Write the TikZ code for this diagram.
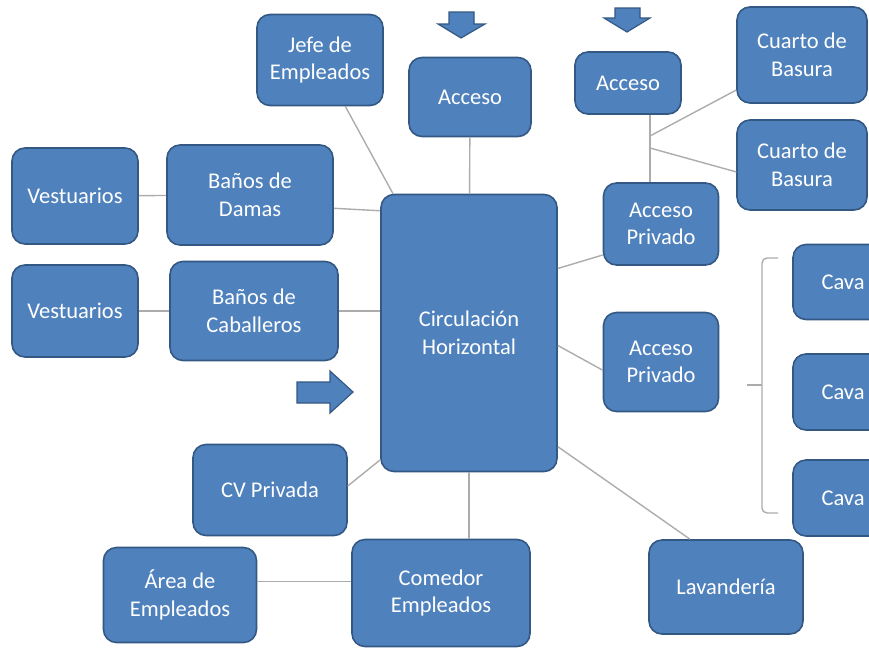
\documentclass[tikz,border=0pt]{standalone}
\usepackage{fontspec}
\setmainfont{Carlito}
\definecolor{boxfill}{RGB}{79,129,189}
\definecolor{boxedge}{RGB}{52,88,132}
\definecolor{linegray}{RGB}{172,172,172}
\begin{document}
\begin{tikzpicture}[x=1pt,y=-1pt,
  box/.style={draw=boxedge, fill=boxfill, line width=1.6pt, rounded corners=13pt,
    text=white, align=center, font=\fontsize{22.5}{27.5}\selectfont, inner sep=0pt},
  sz/.style 2 args={minimum width=#1pt, minimum height=#2pt},
  conn/.style={draw=linegray, line width=1.4pt},
  blockarrow/.style={fill=boxfill, draw=boxedge, line width=1.2pt, line join=miter}]

\useasboundingbox (0,0) rectangle (869,651);
\clip (0,0) rectangle (869,651);

% rooms
\node[box, sz={126}{91}]  (jefe)    at (320,60)  {Jefe de\\Empleados};
\node[box, sz={122}{79}]  (acc1)    at (470,97)  {Acceso};
\node[box, sz={106}{62}]  (acc2)    at (628,83)  {Acceso};
\node[box, sz={130}{96}]  (cb1)     at (802,55)  {Cuarto de\\Basura};
\node[box, sz={130}{90}]  (cb2)     at (802,165) {Cuarto de\\Basura};
\node[box, sz={126}{96}]  (ves1)    at (75,196)  {Vestuarios};
\node[box, sz={166}{100}] (damas)   at (250,195) {Baños de\\Damas};
\node[box, sz={176}{277}] (circ)    at (469,333) {Circulación\\Horizontal};
\node[box, sz={115}{82}]  (ap1)     at (661,224) {Acceso\\Privado};
\node[box, sz={126}{92}]  (ves2)    at (75,311)  {Vestuarios};
\node[box, sz={168}{99}]  (cab)     at (254,311) {Baños de\\Caballeros};
\node[box, sz={115}{99}]  (ap2)     at (661,362) {Acceso\\Privado};
\node[box, sz={100}{75}]  (cava1)   at (843,282) {Cava};
\node[box, sz={100}{76}]  (cava2)   at (843,392) {Cava};
\node[box, sz={100}{76}]  (cava3)   at (843,498) {Cava};
\node[box, sz={154}{91}]  (cv)      at (270,490) {CV Privada};
\node[box, sz={153}{95}]  (area)    at (180,595) {Área de\\Empleados};
\node[box, sz={178}{107}] (comedor) at (441,593) {Comedor\\Empleados};
\node[box, sz={154}{94}]  (lav)     at (726,587) {Lavandería};

% junction points and brace
\coordinate (j1) at (650,136);
\coordinate (j2) at (650,148);
\coordinate (bt) at (778,258);
\coordinate (bm) at (762,385);
\coordinate (bb) at (778,513);
\coordinate (bx) at (747,385);

% connectors
\draw[conn] (jefe) -- (circ);
\draw[conn] (acc1) -- (circ);
\draw[conn] (acc2.south -| j1) -- (ap1.north -| j1);
\draw[conn] (j1) -- (cb1);
\draw[conn] (j2) -- (cb2.186);
\draw[conn] (ap1.208) -- (circ.36);
\draw[conn] (ves1) -- (damas);
\draw[conn] (damas.-9) -- (circ.126);
\draw[conn] (ves2) -- (cab);
\draw[conn] (cab.east) -- (cab.east -| circ.west);
\draw[conn] (circ.-8) -- (ap2.188);
\draw[conn] (cv.3) -- (circ.235);
\draw[conn] (circ.south) -- (circ.south |- comedor.north);
\draw[conn] (area.10) -- (area.10 -| comedor.west);
\draw[conn] (circ.-52) -- (lav.127);

% brace grouping the cavas
\draw[conn, rounded corners=5pt] (bt) -- (bt -| bm) -- (bm);
\draw[conn, rounded corners=5pt] (bb) -- (bb -| bm) -- (bm);
\draw[conn] (bm) -- (bx);

% entrance arrows
\draw[blockarrow] (449,12) -- (474,12) -- (474,24) -- (485,24) -- (461,38)
  -- (438,24) -- (449,24) -- cycle;
\draw[blockarrow] (615,8) -- (640,8) -- (640,18) -- (650,18) -- (627,32)
  -- (604,18) -- (615,18) -- cycle;
\draw[blockarrow] (297,382) -- (330,382) -- (330,371) -- (353,392) -- (330,413)
  -- (330,403) -- (297,403) -- cycle;
\end{tikzpicture}
\end{document}
